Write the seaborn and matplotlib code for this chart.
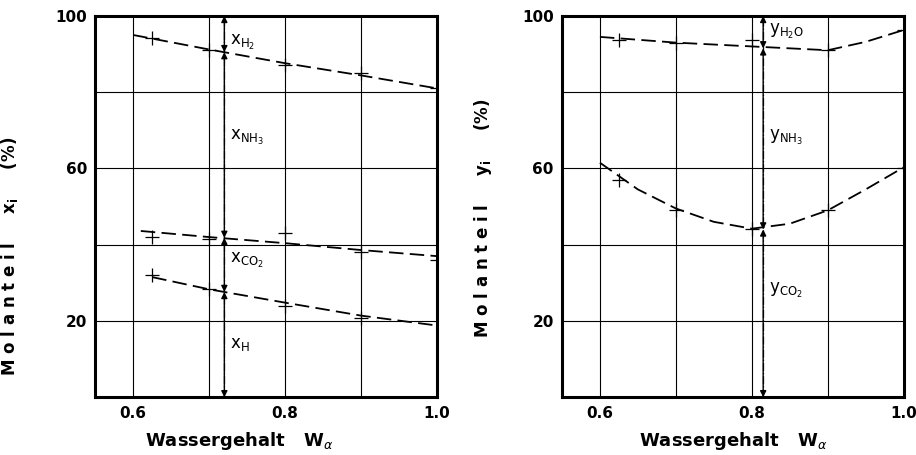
import numpy as np
import pandas as pd
import seaborn as sns
import matplotlib.pyplot as plt

# ---------------- data ----------------
# left panel: liquid phase x_i, boundary lines (dashed fits)
xl_top_w = [0.60, 0.70, 0.80, 0.90, 1.00]
xl_top = [95.0, 91.2, 87.6, 84.4, 81.0]
xl_mid_w = [0.61, 0.70, 0.80, 0.90, 1.00]
xl_mid = [43.6, 42.0, 40.4, 38.6, 37.0]
xl_low_w = [0.625, 0.70, 0.80, 0.90, 1.00]
xl_low = [31.5, 28.3, 24.8, 21.4, 18.8]

# left panel: measured points (+)
xp_w = [0.625, 0.70, 0.80, 0.90, 1.00]
xp_top = [94.2, 91.0, 87.0, 85.0, 81.0]
xp_mid = [42.0, 41.5, 43.0, 38.0, 36.0]
xp_low_w = [0.625, 0.70, 0.80, 0.90]
xp_low = [32.0, 28.5, 24.0, 20.8]

# right panel: vapour phase y_i, boundary lines
yl_top_w = [0.60, 0.70, 0.80, 0.90, 0.95, 1.00]
yl_top = [94.5, 93.0, 92.0, 91.0, 93.2, 96.3]
yl_low_w = [0.60, 0.65, 0.70, 0.75, 0.80, 0.85, 0.90, 0.95, 1.00]
yl_low = [61.5, 54.5, 49.5, 46.0, 44.2, 45.5, 49.0, 54.5, 60.3]

# right panel: measured points (+)
yp_w = [0.625, 0.70, 0.80, 0.90, 1.00]
yp_top = [93.7, 92.8, 93.7, 91.0, 96.3]
yp_low = [57.0, 49.0, 44.0, 49.0, 60.0]

# composition split lines and their segment boundaries
left_cut = 0.72
left_bounds = [100, 90.5, 41.8, 27.6, 0]
left_labels = [r"x$_{\mathregular{H_2}}$", r"x$_{\mathregular{NH_3}}$",
               r"x$_{\mathregular{CO_2}}$", r"x$_{\mathregular{H}}$"]
left_label_y = [93, 68, 36, 14]
right_cut = 0.815
right_bounds = [100, 91.5, 44.0, 0]
right_labels = [r"y$_{\mathregular{H_2O}}$", r"y$_{\mathregular{NH_3}}$",
                r"y$_{\mathregular{CO_2}}$"]
right_label_y = [96, 68, 28]

# ---------------- style ----------------
sns.set_style("white")
plt.rcParams["font.family"] = ["DejaVu Sans"]
plt.rcParams["mathtext.fontset"] = "dejavusans"
plt.rcParams["text.color"] = "black"
plt.rcParams["axes.labelcolor"] = "black"
plt.rcParams["xtick.color"] = "black"
plt.rcParams["ytick.color"] = "black"

fig = plt.figure(figsize=(9.16, 4.55), dpi=100)
ax1 = fig.add_axes([0.104, 0.127, 0.373, 0.838])
ax2 = fig.add_axes([0.6135, 0.127, 0.373, 0.838])

dash = (8, 3.5)


def draw_line(ax, w, v):
    d = pd.DataFrame({"w": w, "v": v})
    sns.lineplot(data=d, x="w", y="v", ax=ax, color="black", lw=1.3,
                 linestyle=(0, dash), sort=True)


def draw_pts(ax, w, v):
    d = pd.DataFrame({"w": w, "v": v})
    sns.scatterplot(data=d, x="w", y="v", ax=ax, marker="+", s=90,
                    color="black", linewidth=0.9)


def draw_cut(ax, xc, bounds, labels, label_y):
    ax.axvline(xc, color="black", lw=0.9, linestyle="-.")
    for b0, b1 in zip(bounds[:-1], bounds[1:]):
        ax.annotate("", xy=(xc, b1), xytext=(xc, b0),
                    arrowprops=dict(arrowstyle="<|-|>", color="black", lw=1.0,
                                    mutation_scale=9, shrinkA=0, shrinkB=0))
    for lab, ly in zip(labels, label_y):
        ax.text(xc + 0.008, ly, lab, fontsize=12, ha="left", va="center")


draw_line(ax1, xl_top_w, xl_top)
draw_line(ax1, xl_mid_w, xl_mid)
draw_line(ax1, xl_low_w, xl_low)
draw_pts(ax1, xp_w, xp_top)
draw_pts(ax1, xp_w, xp_mid)
draw_pts(ax1, xp_low_w, xp_low)
draw_cut(ax1, left_cut, left_bounds, left_labels, left_label_y)

draw_line(ax2, yl_top_w, yl_top)
draw_line(ax2, yl_low_w, yl_low)
draw_pts(ax2, yp_w, yp_top)
draw_pts(ax2, yp_w, yp_low)
draw_cut(ax2, right_cut, right_bounds, right_labels, right_label_y)

for ax in (ax1, ax2):
    ax.set_xlim(0.55, 1.0)
    ax.set_ylim(0, 100)
    ax.set_xticks([0.6, 0.8, 1.0])
    ax.set_xticklabels(["0.6", "0.8", "1.0"], fontweight="bold", fontsize=11)
    ax.set_yticks([20, 60, 100])
    ax.set_yticklabels(["20", "60", "100"], fontweight="bold", fontsize=11)
    ax.set_xticks([0.7, 0.9], minor=True)
    ax.set_yticks([40, 80], minor=True)
    ax.grid(which="both", color="black", lw=0.8)
    ax.tick_params(which="both", length=0, pad=6)
    for sp in ax.spines.values():
        sp.set_color("black")
        sp.set_linewidth(2.2)
    ax.set_xlabel(r"Wassergehalt   W$_{\alpha}$", fontsize=13, fontweight="bold")

ax1.set_ylabel(r"M o l a n t e i l     x$_\mathregular{i}$     (%)", fontsize=12,
               fontweight="bold")
ax2.set_ylabel(r"M o l a n t e i l     y$_\mathregular{i}$     (%)", fontsize=12,
               fontweight="bold")
ax1.yaxis.set_label_coords(-0.22, 0.37)
ax2.yaxis.set_label_coords(-0.20, 0.47)
ax1.xaxis.set_label_coords(0.42, -0.085)
ax2.xaxis.set_label_coords(0.50, -0.085)

fig.savefig("out.png", dpi=100)
